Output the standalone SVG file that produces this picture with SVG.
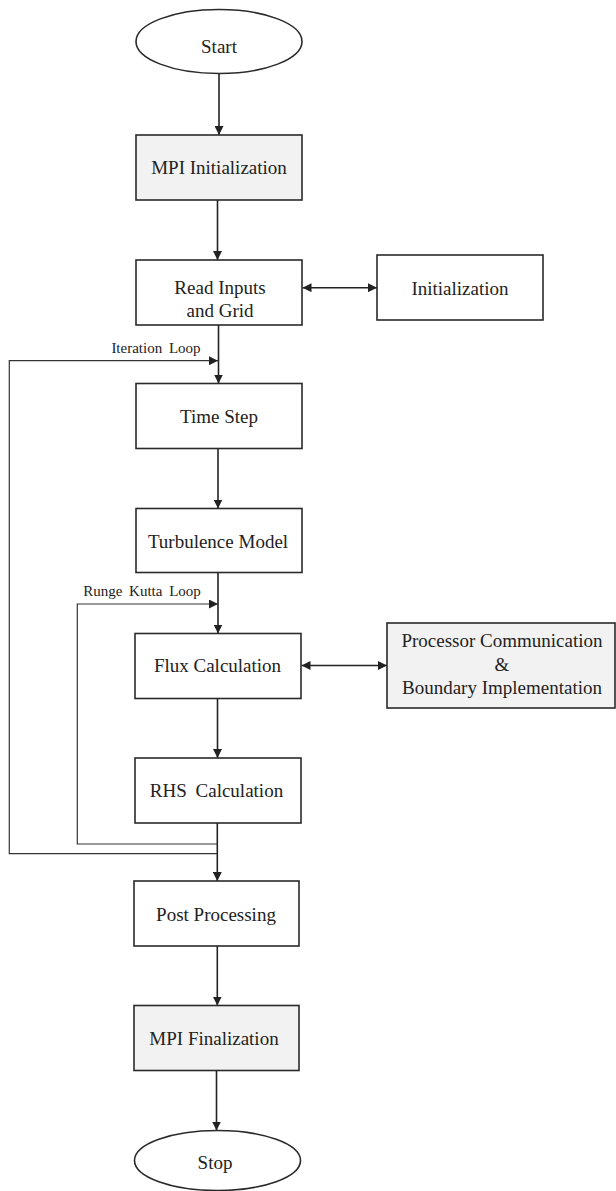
<svg xmlns="http://www.w3.org/2000/svg" width="616" height="1191" viewBox="0 0 616 1191">
<style>
.box{fill:#ffffff;stroke:#2a2a2a;stroke-width:1.6}
.gray{fill:#f2f2f2}
.t{font-family:"Liberation Serif","Times New Roman",serif;font-size:19px;fill:#222;text-anchor:middle}
.lbl{font-family:"Liberation Serif","Times New Roman",serif;font-size:15px;fill:#222;text-anchor:middle;word-spacing:3px}
.c{fill:none;stroke:#222;stroke-width:1.6}
.loop{fill:none;stroke:#333;stroke-width:1.2}
</style>
<defs>
<marker id="ah" viewBox="0 0 10 10" refX="10" refY="5" markerWidth="9" markerHeight="9" markerUnits="userSpaceOnUse" orient="auto-start-reverse">
<path d="M0,0 L10,5 L0,10 Z" fill="#222"/>
</marker>
</defs>
<rect width="616" height="1191" fill="#ffffff"/>
<g id="connectors">
<line class="c" x1="219" y1="73.5" x2="219" y2="135" marker-end="url(#ah)"/>
<line class="c" x1="217.5" y1="200" x2="217.5" y2="260" marker-end="url(#ah)"/>
<line class="c" x1="218.5" y1="325" x2="218.5" y2="383.5" marker-end="url(#ah)"/>
<line class="c" x1="218" y1="448.5" x2="218" y2="508.5" marker-end="url(#ah)"/>
<line class="c" x1="218" y1="572.5" x2="218" y2="633.5" marker-end="url(#ah)"/>
<line class="c" x1="217.5" y1="698.5" x2="217.5" y2="758" marker-end="url(#ah)"/>
<line class="c" x1="217.3" y1="823" x2="217.3" y2="881" marker-end="url(#ah)"/>
<line class="c" x1="217.3" y1="946" x2="217.3" y2="1005.5" marker-end="url(#ah)"/>
<line class="c" x1="216.5" y1="1070.5" x2="216.5" y2="1130.5" marker-end="url(#ah)"/>
<line class="c" x1="302.5" y1="287.7" x2="377" y2="287.7" marker-start="url(#ah)" marker-end="url(#ah)"/>
<line class="c" x1="301.5" y1="665.5" x2="387" y2="665.5" marker-start="url(#ah)" marker-end="url(#ah)"/>
<path class="loop" d="M217.3 853.7 H9.3 V360.7 H218" marker-end="url(#ah)"/>
<path class="loop" d="M217.3 844 H77.3 V604 H218" marker-end="url(#ah)"/>
<text class="lbl" x="156" y="353">Iteration Loop</text>
<text class="lbl" x="142" y="596">Runge Kutta Loop</text>
</g>
<g id="start">
<ellipse class="box" cx="219" cy="41.5" rx="83" ry="32"/>
<text class="t" x="219" y="53">Start</text>
</g>
<g id="mpi_init">
<rect class="box gray" x="136" y="135" width="166" height="65"/>
<text class="t" x="219" y="173.5">MPI Initialization</text>
</g>
<g id="read_inputs">
<rect class="box" x="136" y="260" width="166" height="65"/>
<text class="t" x="220" y="294">Read Inputs</text>
<text class="t" x="220" y="316.5">and Grid</text>
</g>
<g id="initialization">
<rect class="box" x="377" y="255" width="166" height="65"/>
<text class="t" x="460" y="294.5">Initialization</text>
</g>
<g id="time_step">
<rect class="box" x="136" y="383.5" width="166" height="65"/>
<text class="t" x="219" y="423">Time Step</text>
</g>
<g id="turbulence">
<rect class="box" x="136" y="508.5" width="166" height="64"/>
<text class="t" x="218" y="547.5">Turbulence Model</text>
</g>
<g id="flux">
<rect class="box" x="135" y="633.5" width="166" height="65"/>
<text class="t" x="217.5" y="672">Flux Calculation</text>
</g>
<g id="processor">
<rect class="box gray" x="387" y="623" width="228" height="85"/>
<text class="t" x="502" y="647">Processor Communication</text>
<text class="t" x="502" y="671">&amp;</text>
<text class="t" x="502" y="694">Boundary Implementation</text>
</g>
<g id="rhs">
<rect class="box" x="135" y="758" width="166" height="65"/>
<text class="t" x="216.5" y="797" style="word-spacing:4px">RHS Calculation</text>
</g>
<g id="post">
<rect class="box" x="134" y="881" width="165" height="65"/>
<text class="t" x="216" y="920.5">Post Processing</text>
</g>
<g id="mpi_fin">
<rect class="box gray" x="134" y="1005.5" width="165" height="65"/>
<text class="t" x="214" y="1044.5">MPI Finalization</text>
</g>
<g id="stop">
<ellipse class="box" cx="217.5" cy="1160.5" rx="83" ry="30"/>
<text class="t" x="215" y="1169">Stop</text>
</g>
</svg>
